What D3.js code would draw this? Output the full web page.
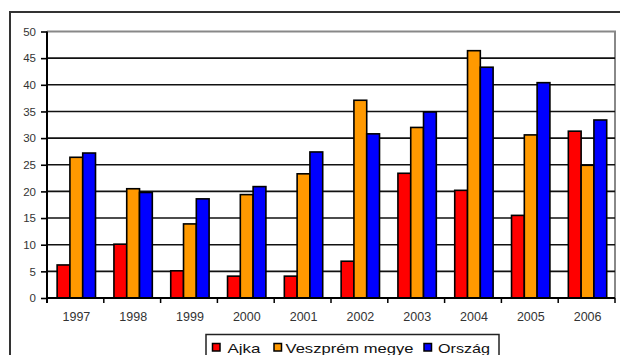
<!DOCTYPE html>
<html>
<head>
<meta charset="utf-8">
<script src="https://cdn.jsdelivr.net/npm/d3@7"></script>
<style>
  html, body { margin: 0; padding: 0; background: #fff; }
  svg { display: block; font-family: "Liberation Sans", Arial, sans-serif; }
</style>
</head>
<body>
<svg id="chart" width="620" height="355"></svg>
<script>
// Years on the horizontal axis
const years = ["1997", "1998", "1999", "2000", "2001", "2002", "2003", "2004", "2005", "2006"];
// Series names (legend order)
const seriesNames = ["Ajka", "Veszprém megye", "Ország"];
// Values per series, one per year
const ajka = [6.2, 10.1, 5.1, 4.1, 4.1, 6.9, 23.4, 20.2, 15.5, 31.3];
const veszprem = [26.4, 20.5, 13.9, 19.4, 23.3, 37.1, 32.0, 46.4, 30.6, 24.9];
const orszag = [27.2, 19.8, 18.6, 20.9, 27.4, 30.8, 34.9, 43.3, 40.4, 33.4];
// Y axis ticks
const yTicks = [0, 5, 10, 15, 20, 25, 30, 35, 40, 45, 50];
const colors = ["#ff0000", "#ff9900", "#0000ff"];

const seriesValues = [ajka, veszprem, orszag];
const svg = d3.select("#chart");

// Outer chart frame
svg.append("path")
  .attr("d", "M10,360 L10,12 L625,12")
  .attr("fill", "none").attr("stroke", "#333").attr("stroke-width", 2);

const plotLeft = 47, plotRight = 615, plotTop = 31.5, plotBottom = 298;

const x = d3.scaleBand().domain(years).range([plotLeft, plotRight]).padding(0);
const xSub = d3.scaleBand().domain(seriesNames).range([0, x.bandwidth()])
  .paddingInner(0).paddingOuter(0.72).align(0.55);
const y = d3.scaleLinear().domain([0, 50]).range([plotBottom, plotTop]);

// Plot area border (top and right, grey)
svg.append("path")
  .attr("d", `M${plotLeft},${plotTop} L${plotRight},${plotTop} L${plotRight},${plotBottom}`)
  .attr("fill", "none").attr("stroke", "#888").attr("stroke-width", 2);

// Horizontal gridlines
svg.append("g").selectAll("line")
  .data(yTicks.filter(t => t > 0 && t < 50))
  .join("line")
  .attr("x1", plotLeft).attr("x2", plotRight)
  .attr("y1", d => y(d)).attr("y2", d => y(d))
  .attr("stroke", "#111").attr("stroke-width", 1.6);

// Bars
const groups = svg.append("g").selectAll("g")
  .data(seriesNames)
  .join("g")
  .attr("fill", (d, i) => colors[i]);

groups.selectAll("rect")
  .data((s, i) => years.map((yr, j) => ({ yr, s, v: seriesValues[i][j] })))
  .join("rect")
  .attr("x", d => x(d.yr) + xSub(d.s))
  .attr("width", xSub.bandwidth())
  .attr("y", d => y(d.v))
  .attr("height", d => y(0) - y(d.v))
  .attr("stroke", "#000").attr("stroke-width", 1.6);

// Y axis
const yAxis = svg.append("g")
  .attr("transform", `translate(${plotLeft},0)`)
  .call(d3.axisLeft(y).tickValues(yTicks).tickSize(6).tickPadding(5));
yAxis.select(".domain").attr("stroke", "#000").attr("stroke-width", 2)
  .attr("d", `M0,${plotTop}V${plotBottom + 5}`);
yAxis.selectAll(".tick line").attr("stroke", "#000").attr("stroke-width", 1.6);
yAxis.selectAll(".tick text")
  .attr("font-size", 11.5).attr("fill", "#333")
  .attr("font-family", "Liberation Sans, Arial, sans-serif");

// X axis with ticks at category boundaries
const xAxis = svg.append("g").attr("transform", `translate(0,${plotBottom})`);
xAxis.append("line")
  .attr("x1", plotLeft).attr("x2", plotRight)
  .attr("stroke", "#000").attr("stroke-width", 2);
xAxis.selectAll("line.tk")
  .data(years.slice(1).concat(["end"]))
  .join("line").attr("class", "tk")
  .attr("x1", d => d === "end" ? plotRight : x(d))
  .attr("x2", d => d === "end" ? plotRight : x(d))
  .attr("y1", 0).attr("y2", 5)
  .attr("stroke", "#000").attr("stroke-width", 1.5);
xAxis.selectAll("text")
  .data(years)
  .join("text")
  .attr("x", d => x(d) + x.bandwidth() / 2 + 1)
  .attr("y", 23)
  .attr("text-anchor", "middle")
  .attr("font-size", 12.5).attr("fill", "#333")
  .text(d => d);

// Legend
const legend = svg.append("g");
legend.append("rect")
  .attr("x", 206).attr("y", 334.5).attr("width", 293).attr("height", 30)
  .attr("fill", "#fff").attr("stroke", "#222").attr("stroke-width", 1.5);
const legendItems = [
  { sq: 212.5, tx: 227.5, w: 33 },
  { sq: 274, tx: 285.5, w: 128 },
  { sq: 424, tx: 438, w: 52 }
];
legendItems.forEach((it, i) => {
  legend.append("rect")
    .attr("x", it.sq).attr("y", 343.5).attr("width", 7.5).attr("height", 7.5)
    .attr("fill", colors[i]).attr("stroke", "#000").attr("stroke-width", 1.5);
  legend.append("text")
    .attr("x", it.tx).attr("y", 353)
    .attr("font-size", 13.5).attr("fill", "#111")
    .attr("textLength", it.w).attr("lengthAdjust", "spacingAndGlyphs")
    .text(seriesNames[i]);
});
</script>
</body>
</html>
